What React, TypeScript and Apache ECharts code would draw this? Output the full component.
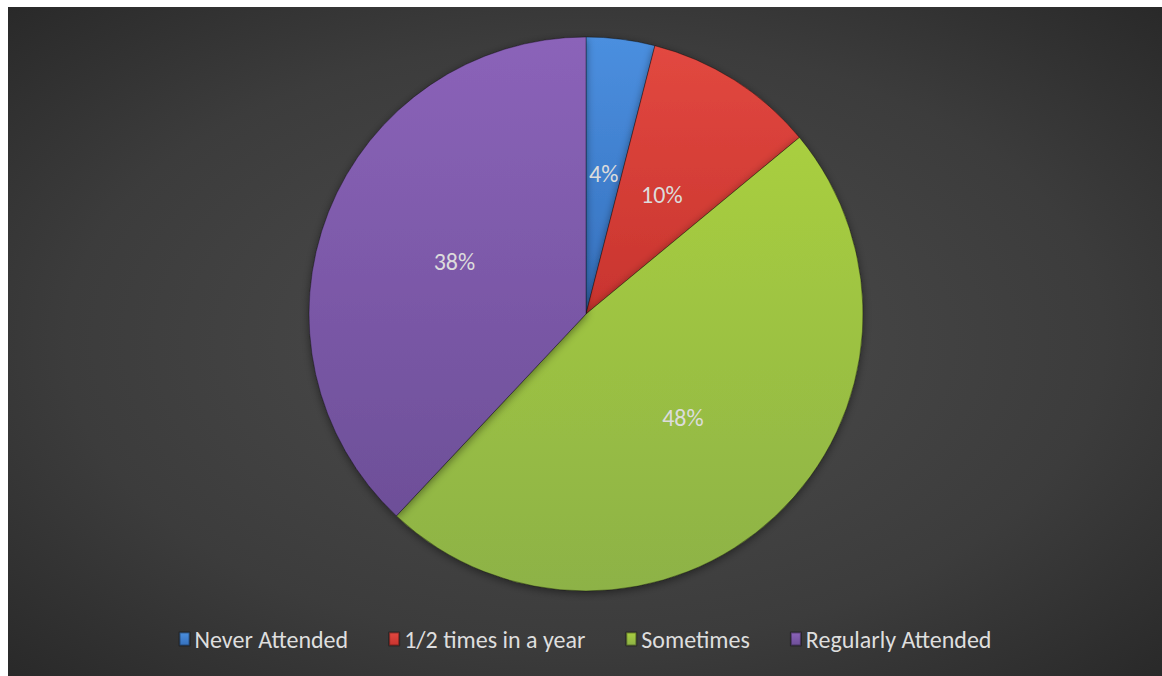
import React, { useEffect, useRef } from "react";
import * as echarts from "echarts";

const categories = ["Never Attended", "1/2 times in a year", "Sometimes", "Regularly Attended"];
const values = [4, 10, 48, 38];
const topColors = ["#4b8fdf", "#e24840", "#a9cf40", "#8b63b9"];
const bottomColors = ["#3570bd", "#c8342e", "#8db246", "#6d4f98"];

export default function App() {
  const ref = useRef<HTMLDivElement>(null);
  useEffect(() => {
    document.body.style.margin = "0";
    const chart = echarts.init(ref.current!, undefined, { renderer: "svg" });
    const font = "Carlito, 'Open Sans', sans-serif";
    chart.setOption({
      animation: false,
      backgroundColor: new echarts.graphic.RadialGradient(0.5, 0.5, 0.75, [
        { offset: 0, color: "#4d4d4d" },
        { offset: 0.6, color: "#3c3c3c" },
        { offset: 1, color: "#262626" },
      ]),
      legend: {
        bottom: 20,
        left: "center",
        icon: "rect",
        itemWidth: 10,
        itemHeight: 13,
        itemGap: 40,
        textStyle: { color: "#dedede", fontSize: 24, fontFamily: font },
        data: categories,
      },
      series: [
        {
          type: "pie",
          center: [578, 307],
          radius: 277,
          startAngle: 90,
          clockwise: true,
          label: {
            show: true,
            position: "inside",
            formatter: "{c}%",
            color: "#dcdcdc",
            fontSize: 24,
            fontFamily: font,
          },
          labelLine: { show: false },
          itemStyle: {
            borderColor: "rgba(0,0,0,0.35)",
            borderWidth: 1,
            shadowBlur: 8,
            shadowColor: "rgba(0,0,0,0.45)",
            shadowOffsetY: 2,
          },
          emphasis: { disabled: true },
          data: categories.map((name, i) => ({
            name,
            value: values[i],
            itemStyle: {
              color: new echarts.graphic.LinearGradient(0, 0, 0, 1, [
                { offset: 0, color: topColors[i] },
                { offset: 1, color: bottomColors[i] },
              ]),
            },
          })),
        },
      ],
    });
    return () => chart.dispose();
  }, []);
  return <div ref={ref} style={{ width: 1154, height: 669, marginLeft: 8, marginTop: 7 }} />;
}
